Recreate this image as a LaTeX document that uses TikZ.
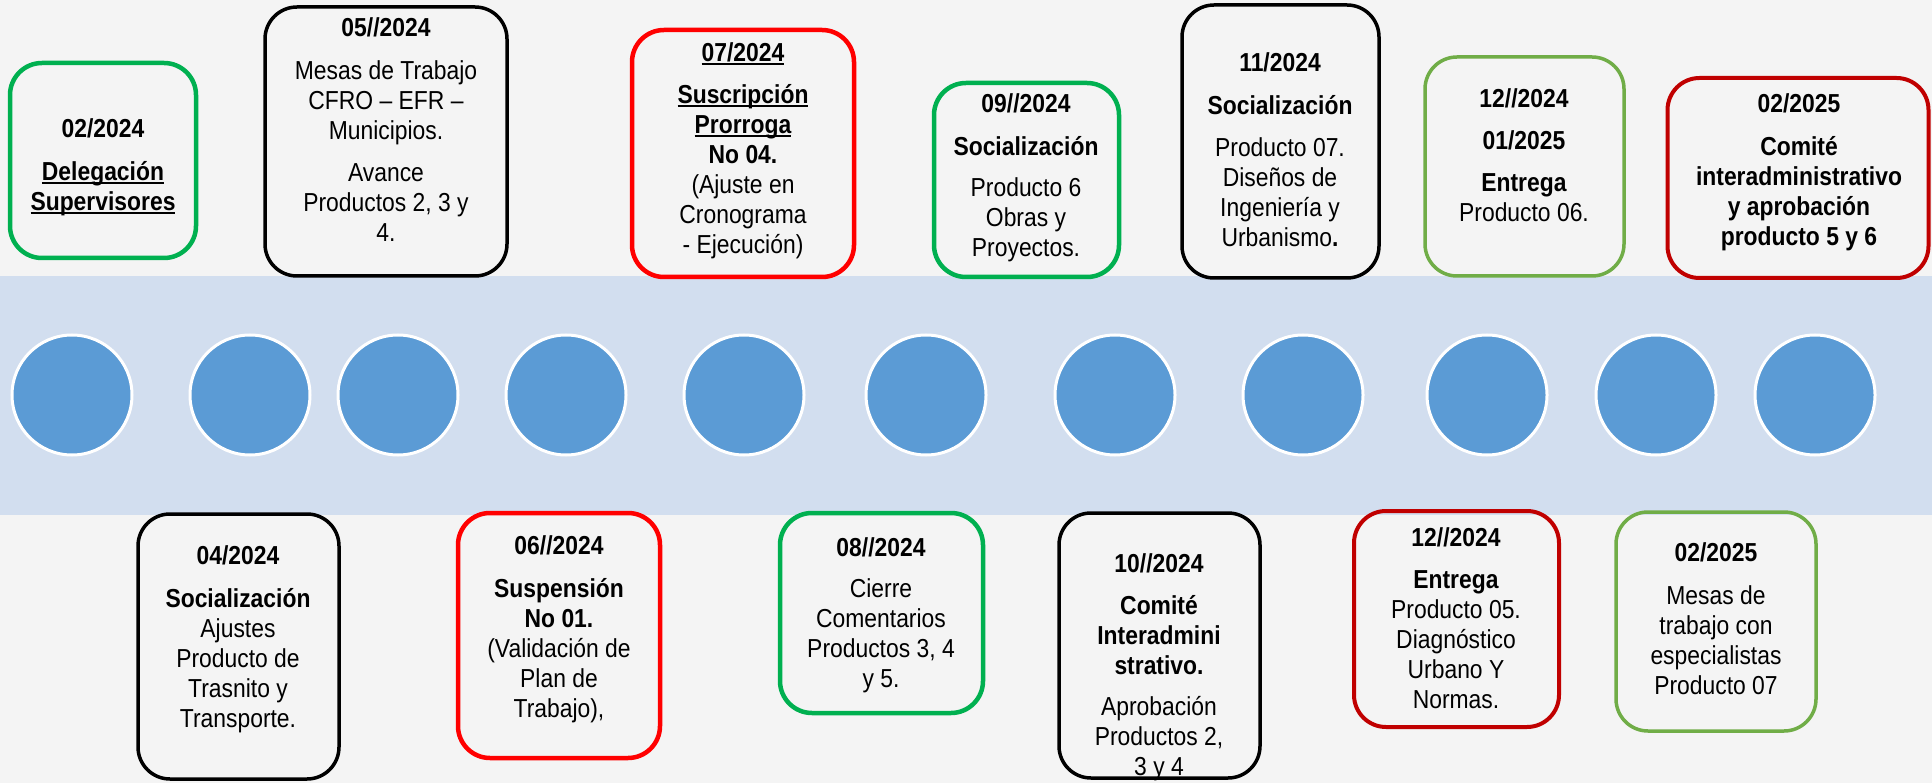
\documentclass[tikz,border=0pt]{standalone}
\usepackage{fontspec}
\setmainfont{Liberation Sans}[FakeStretch=0.88]
\definecolor{bgc}{RGB}{244,244,244}
\definecolor{bandc}{RGB}{210,222,239}
\definecolor{dotc}{RGB}{91,155,213}
\definecolor{cgreen}{RGB}{0,176,80}
\definecolor{cred}{RGB}{255,0,0}
\definecolor{clgreen}{RGB}{112,173,71}
\definecolor{cdred}{RGB}{192,0,0}
\newcommand\ulx[1]{\setbox0\hbox{#1}\rlap{\rule[-4pt]{\wd0}{1.8pt}}\box0}
\begin{document}
\begin{tikzpicture}[x=1pt,y=-1pt,
  frame/.style={draw=#1,rounded corners=32pt,inner sep=0pt,fill=none},
  fgreen/.style={frame=cgreen,line width=4.5pt},
  fred/.style={frame=cred,line width=4.5pt},
  fblack/.style={frame=black,line width=3.5pt},
  flgreen/.style={frame=clgreen,line width=3.5pt},
  fdred/.style={frame=cdred,line width=4pt},
  txt/.style={align=center,inner sep=0pt,anchor=north,font=\fontsize{26}{30}\selectfont},
  dot/.style={circle,fill=dotc,draw=white,line width=3pt,minimum size=120pt,inner sep=0pt}]
\useasboundingbox (0,0) rectangle (1932,783);
\fill[bgc] (0,0) rectangle (1932,783);
\fill[bandc] (0,276) rectangle (1932,515);
% dots
\foreach \i/\x in {1/72,2/250,3/398,4/566,5/744,6/926,7/1115,8/1303,9/1487,10/1656,11/1815}
  \node[dot] (c\i) at (\x,395) {};
% boxes
\node[fgreen,minimum width=186pt,minimum height=195pt] (t1) at (103,160.5) {};
\node[fblack,minimum width=242pt,minimum height=269pt] (t2) at (386,141.5) {};
\node[fred,minimum width=222pt,minimum height=247pt] (t3) at (743,153.5) {};
\node[fgreen,minimum width=185pt,minimum height=194pt] (t4) at (1026.5,180) {};
\node[fblack,minimum width=197pt,minimum height=273pt] (t5) at (1280.5,141.5) {};
\node[flgreen,minimum width=199pt,minimum height=219pt] (t6) at (1524.5,166.5) {};
\node[fdred,minimum width=261pt,minimum height=200pt] (t7) at (1798,178) {};
\node[fblack,minimum width=201pt,minimum height=265pt] (b1) at (238.5,646.5) {};
\node[fred,minimum width=202pt,minimum height=245pt] (b2) at (559,635.5) {};
\node[fgreen,minimum width=203pt,minimum height=200pt] (b3) at (881.5,613) {};
\node[fblack,minimum width=201pt,minimum height=265pt] (b4) at (1159.5,645.5) {};
\node[fdred,minimum width=205pt,minimum height=216pt] (b5) at (1456.5,619) {};
\node[flgreen,minimum width=200pt,minimum height=219pt] (b6) at (1716,621.5) {};
% texts
\node[txt] (t1x) at (103,118) {\textbf{02/2024}\\[13pt]\textbf{\ulx{Delegación}}\\\textbf{\ulx{Supervisores}}};
\node[txt] (t2x) at (386,17) {\textbf{05//2024}\\[13pt]Mesas de Trabajo\\CFRO – EFR –\\Municipios.\\[12pt]Avance\\Productos 2, 3 y\\4.};
\node[txt] (t3x) at (743,42) {\textbf{\ulx{07/2024}}\\[12pt]\textbf{\ulx{Suscripción}}\\\textbf{\ulx{Prorroga}}\\\textbf{No 04.}\\(Ajuste en\\Cronograma\\- Ejecución)};
\node[txt] (t4x) at (1026,93) {\textbf{09//2024}\\[13pt]\textbf{Socialización}\\[11pt]Producto 6\\Obras y\\Proyectos.};
\node[txt] (t5x) at (1280,52) {\textbf{11/2024}\\[13pt]\textbf{Socialización}\\[12pt]Producto 07.\\Diseños de\\Ingeniería y\\Urbanismo\textbf{.}};
\node[txt] (t6x) at (1524,88) {\textbf{12//2024}\\[12pt]\textbf{01/2025}\\[12pt]\textbf{Entrega}\\Producto 06.};
\node[txt] (t7x) at (1799,93) {\textbf{02/2025}\\[13pt]\textbf{Comité}\\\textbf{interadministrativo}\\\textbf{y aprobación}\\\textbf{producto 5 y 6}};
\node[txt] (b1x) at (238,545) {\textbf{04/2024}\\[13pt]\textbf{Socialización}\\Ajustes\\Producto de\\Trasnito y\\Transporte.};
\node[txt] (b2x) at (559,535) {\textbf{06//2024}\\[13pt]\textbf{Suspensión}\\\textbf{No 01.}\\(Validación de\\Plan de\\Trabajo),};
\node[txt] (b3x) at (881,537) {\textbf{08//2024}\\[11pt]Cierre\\Comentarios\\Productos 3, 4\\y 5.};
\node[txt] (b4x) at (1159,553) {\textbf{10//2024}\\[12pt]\textbf{Comité}\\\textbf{Interadmini}\\\textbf{strativo.}\\[11pt]Aprobación\\Productos 2,\\3 y 4};
\node[txt] (b5x) at (1456,527) {\textbf{12//2024}\\[12pt]\textbf{Entrega}\\Producto 05.\\Diagnóstico\\Urbano Y\\Normas.};
\node[txt] (b6x) at (1716,542) {\textbf{02/2025}\\[13pt]Mesas de\\trabajo con\\especialistas\\Producto 07};
\end{tikzpicture}
\end{document}
